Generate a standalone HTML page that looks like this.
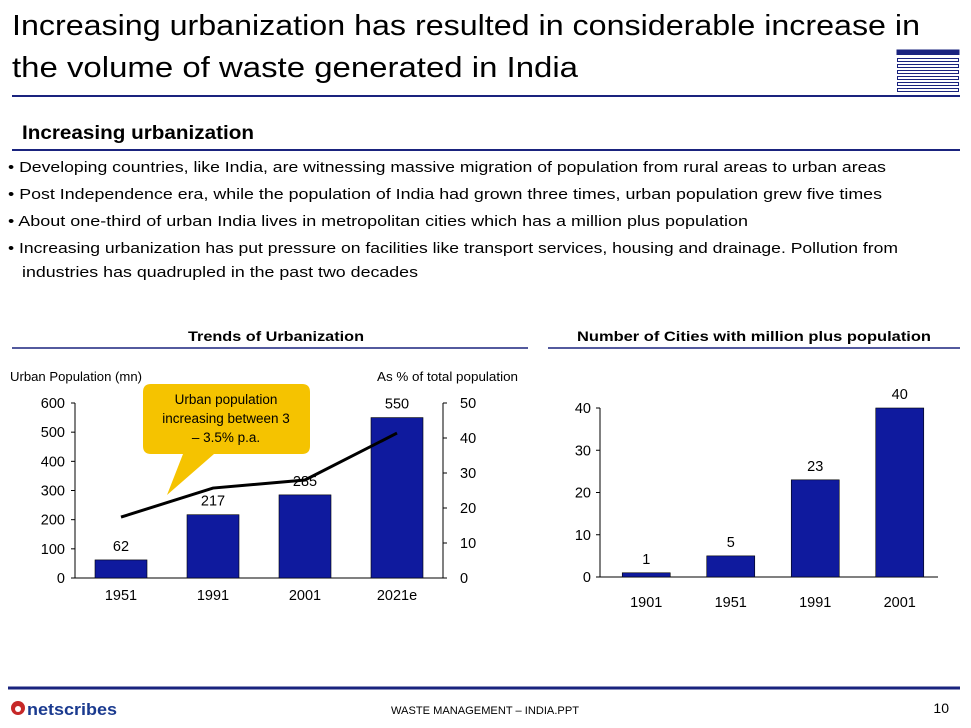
<!DOCTYPE html>
<html><head><meta charset="utf-8"><style>
html,body{margin:0;padding:0;background:#fff;width:971px;height:728px;overflow:hidden}
svg{display:block;font-family:"Liberation Sans",sans-serif}
</style></head><body>
<svg id="s" width="971" height="728" viewBox="0 0 971 728">
<g>
<text x="12" y="35" font-size="29" textLength="908" lengthAdjust="spacingAndGlyphs" fill="#000">Increasing urbanization has resulted in considerable increase in</text>
<text x="12" y="77" font-size="29" textLength="566" lengthAdjust="spacingAndGlyphs" fill="#000">the volume of waste generated in India</text>
<g fill="none" stroke="#1a237e" stroke-width="1">
<rect x="897" y="50" width="62" height="4.5" fill="#1a237e"/>
<rect x="897.5" y="58.5" width="61" height="3"/>
<rect x="897.5" y="64.5" width="61" height="3"/>
<rect x="897.5" y="70.5" width="61" height="3"/>
<rect x="897.5" y="76.5" width="61" height="3"/>
<rect x="897.5" y="82.5" width="61" height="3"/>
<rect x="897.5" y="88.5" width="61" height="3"/>
</g>
<line x1="12" y1="96" x2="960" y2="96" stroke="#1a237e" stroke-width="2"/>
</g>
<text x="22" y="139" font-size="19" font-weight="bold" textLength="232" lengthAdjust="spacingAndGlyphs">Increasing urbanization</text>
<line x1="12" y1="150" x2="960" y2="150" stroke="#1a237e" stroke-width="2"/>
<g font-size="15" fill="#000">
<text x="8" y="172" textLength="878" lengthAdjust="spacingAndGlyphs">• Developing countries, like India, are witnessing massive migration of population from rural areas to urban areas</text>
<text x="8" y="199" textLength="874" lengthAdjust="spacingAndGlyphs">• Post Independence era, while the population of India had grown three times, urban population grew five times</text>
<text x="8" y="226" textLength="740" lengthAdjust="spacingAndGlyphs">• About one-third of urban India lives in metropolitan cities which has a million plus population</text>
<text x="8" y="253" textLength="890" lengthAdjust="spacingAndGlyphs">• Increasing urbanization has put pressure on facilities like transport services, housing and drainage. Pollution from</text>
<text x="22" y="277" textLength="396" lengthAdjust="spacingAndGlyphs">industries has quadrupled in the past two decades</text>
</g>
<text x="276" y="341" font-size="14" font-weight="bold" text-anchor="middle" textLength="176" lengthAdjust="spacingAndGlyphs">Trends of Urbanization</text>
<line x1="12" y1="348" x2="528" y2="348" stroke="#1a237e" stroke-width="1.5"/>
<text x="754" y="341" font-size="14" font-weight="bold" text-anchor="middle" textLength="354" lengthAdjust="spacingAndGlyphs">Number of Cities with million plus population</text>
<line x1="548" y1="348" x2="960" y2="348" stroke="#1a237e" stroke-width="1.5"/>
<text x="10" y="381" font-size="12.5" textLength="132" lengthAdjust="spacingAndGlyphs">Urban Population (mn)</text>
<text x="377" y="381" font-size="12.5" textLength="141" lengthAdjust="spacingAndGlyphs">As % of total population</text>
<g id="c1"></g>
<g id="c2"></g>
<g>
<line x1="8" y1="688" x2="960" y2="688" stroke="#1a237e" stroke-width="3"/>
<g>
<circle cx="18" cy="708" r="7" fill="#c62828"/>
<circle cx="18" cy="709" r="3" fill="#fff"/>
<text x="27" y="715" font-size="17" font-weight="bold" fill="#1a3a8f" textLength="90" lengthAdjust="spacingAndGlyphs">netscribes</text>
</g>
<text x="485" y="714" font-size="11" text-anchor="middle" textLength="188" lengthAdjust="spacingAndGlyphs">WASTE MANAGEMENT – INDIA.PPT</text>
<text x="949" y="713" font-size="14" text-anchor="end">10</text>
</g>
</svg>
<script>
const cats1 = ["1951","1991","2001","2021e"];
const pop1 = [62,217,285,550];
const pct1 = [17.4,25.7,28,41.4];
const leftTicks = [0,100,200,300,400,500,600];
const rightTicks = [0,10,20,30,40,50];
const cats2 = ["1901","1951","1991","2001"];
const cities2 = [1,5,23,40];
const ticks2 = [0,10,20,30,40];
const NS = "http://www.w3.org/2000/svg";
function mk(p, tag, at){const e=document.createElementNS(NS,tag);for(const k in at)e.setAttribute(k,at[k]);p.appendChild(e);return e;}
const BLUE="#0f1a9e";
const c1=document.getElementById('c1');
const L={x0:75,x1:443,y0:578,y1:403};
const yL=v=>L.y0-(v/600)*(L.y0-L.y1);
const yR=v=>L.y0-(v/50)*(L.y0-L.y1);
const band1=(L.x1-L.x0)/cats1.length;
const xC1=i=>L.x0+band1*(i+0.5);
let e;
e=mk(c1,'line',{x1:L.x0,y1:L.y1,x2:L.x0,y2:L.y0,stroke:'#000'});


e=mk(c1,'line',{x1:L.x1,y1:L.y1,x2:L.x1,y2:L.y0,stroke:'#000'});


e=mk(c1,'line',{x1:L.x0,y1:L.y0,x2:L.x1,y2:L.y0,stroke:'#000'});


leftTicks.forEach(t=>{
 mk(c1,'line',{x1:L.x0-4,y1:yL(t),x2:L.x0,y2:yL(t),stroke:'#000'});
 e=mk(c1,'text',{x:L.x0-10,y:yL(t)+5,'font-size':14.5,'text-anchor':'end'});e.textContent=t;
 
 
});
rightTicks.forEach(t=>{
 mk(c1,'line',{x1:L.x1,y1:yR(t),x2:L.x1+4,y2:yR(t),stroke:'#000'});
 e=mk(c1,'text',{x:L.x1+17,y:yR(t)+5,'font-size':14.5});e.textContent=t;
 
 
});
const bw1=52;
pop1.forEach((v,i)=>{
 e=mk(c1,'rect',{x:xC1(i)-bw1/2,y:yL(v),width:bw1,height:L.y0-yL(v),fill:BLUE,stroke:'#000','stroke-width':0.6});
 
 
 e=mk(c1,'text',{x:xC1(i),y:yL(v)-9,'font-size':14.5,'text-anchor':'middle'});e.textContent=v;
 
 
 e=mk(c1,'text',{x:xC1(i),y:600,'font-size':14.5,'text-anchor':'middle'});e.textContent=cats1[i];
 
 
});
e=mk(c1,'polyline',{points:pct1.map((v,i)=>xC1(i)+','+yR(v)).join(' '),fill:'none',stroke:'#000','stroke-width':3});


const cg=mk(c1,'g',{});


mk(cg,'path',{d:'M151,384 H302 Q310,384 310,392 V446 Q310,454 302,454 H214 L167,495 L183,454 H151 Q143,454 143,446 V392 Q143,384 151,384 Z',fill:'#f5c300'});
["Urban population","increasing between 3","– 3.5% p.a."].forEach((s,i)=>{
 e=mk(cg,'text',{x:226,y:404+i*19,'font-size':13.5,'text-anchor':'middle'});e.textContent=s;
 
 
});
const c2=document.getElementById('c2');
const R={x0:600,x1:938,y0:577,y1:408};
const y2=v=>R.y0-(v/40)*(R.y0-R.y1);
const band2=(R.x1-R.x0)/cats2.length;
const xC2=i=>R.x0+4+band2*(i+0.5);
e=mk(c2,'line',{x1:R.x0,y1:R.y1,x2:R.x0,y2:R.y0,stroke:'#000'});


e=mk(c2,'line',{x1:R.x0,y1:R.y0,x2:R.x1,y2:R.y0,stroke:'#000'});


ticks2.forEach(t=>{
 mk(c2,'line',{x1:R.x0-4,y1:y2(t),x2:R.x0,y2:y2(t),stroke:'#000'});
 e=mk(c2,'text',{x:R.x0-9,y:y2(t)+5,'font-size':14.5,'text-anchor':'end'});e.textContent=t;
 
 
});
const bw2=48;
cities2.forEach((v,i)=>{
 e=mk(c2,'rect',{x:xC2(i)-bw2/2,y:y2(v),width:bw2,height:R.y0-y2(v),fill:BLUE,stroke:'#000','stroke-width':0.6});
 
 
 e=mk(c2,'text',{x:xC2(i),y:y2(v)-9,'font-size':14.5,'text-anchor':'middle'});e.textContent=v;
 
 
 e=mk(c2,'text',{x:xC2(i),y:607,'font-size':14.5,'text-anchor':'middle'});e.textContent=cats2[i];
 
 
});
</script>
</body></html>
